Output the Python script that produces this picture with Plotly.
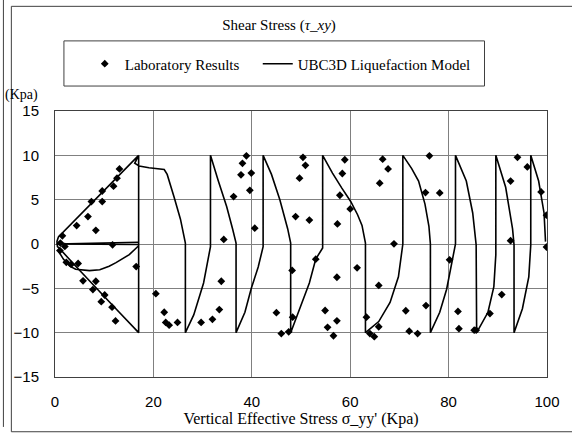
import plotly.graph_objects as go

# Laboratory measurements: vertical effective stress (kPa) vs shear stress (kPa)
lab_sigma = [13.1, 12.6, 11.9, 9.6, 7.4, 9.6, 6.7, 4.4, 8.3, 1.5, 1.1, 2.0, 11.7, 1.0,
             2.3, 3.3, 4.7, 16.5, 5.7, 8.3, 7.7, 10.1, 9.4, 11.6, 12.3,
             20.5, 22.2, 22.5, 23.2, 24.9, 29.7, 32.0, 33.4, 33.8, 34.3, 36.3, 37.8, 38.1,
             38.9, 39.9, 39.6, 40.6, 45.0, 46.0, 47.5, 48.3, 48.2, 48.9, 49.7, 50.4, 50.9,
             51.7, 53.0, 54.9, 55.4, 56.6, 57.3, 57.3, 57.4, 57.9, 58.4, 58.9, 60.0, 61.4,
             63.3, 64.0, 64.9, 65.8, 65.8, 66.0, 66.6, 67.7, 68.9, 71.3, 72.0, 73.7, 75.4,
             75.3, 76.1, 78.2, 80.2, 81.9, 82.1, 85.2, 85.6, 88.4, 90.8, 92.6, 92.6, 94.0,
             96.0, 98.8, 99.9, 99.9]
lab_tau = [8.47, 7.42, 6.52, 5.98, 4.79, 4.79, 3.09, 2.08, 1.54, 0.92, 0.1, -0.27, -0.09, -0.74,
           -2.07, -2.29, -2.2, -2.55, -4.15, -4.2, -5.14, -5.75, -6.51, -7.13, -8.68,
           -5.6, -7.7, -8.85, -9.15, -8.85, -8.85, -8.5, -7.4, -4.2, 0.52, 5.35, 7.8, 9.1,
           9.95, 8.0, 6.05, 1.79, -7.75, -10.1, -9.9, -8.25, -2.98, 3.09, 7.42, 9.77, 8.87,
           2.7, -1.71, -7.5, -9.4, -10.35, -8.66, -3.75, 2.26, 5.5, 7.95, 9.5, 3.96, -2.69,
           -8.25, -10.1, -10.45, -9.33, -4.67, 6.86, 9.57, 8.47, 0.02, -7.53, -9.83, -10.1, -6.95,
           5.8, 9.95, 5.76, -1.78, -7.6, -9.55, -9.72, -9.72, -7.85, -5.7, 0.38, 7.1, 9.77,
           8.69, 5.87, 3.25, -0.34]

# UBC3D liquefaction model stress path (None separates the path pieces)
model_sigma = [17.0, 0.3, 17.0, None,
               0.7, 1.7, 3.0, 4.2, 7.0, 9.1, 11.0, 12.4, 15.1, 16.8, 17.0, None,
               17.0, 0.7, 0.4, 0.5, 0.9, 4.7, 11.7, 17.0, 17.0, 16.2, 17.1, 19.1, 22.2, 22.8,
               24.2, 25.5, 26.5, 26.5, 28.2, 30.2, 31.6, 31.6, 33.2, 34.9, 36.1, 36.8, 36.8,
               38.6, 39.9, 41.3, 42.3, 42.3, 44.0, 45.7, 47.3, 47.9, 47.9, 50.0, 51.7, 53.0,
               54.4, 54.4, 56.4, 58.3, 60.1, 61.5, 62.4, 63.1, 63.1, 65.8, 68.1, 69.8, 70.5,
               70.7, 70.7, 72.5, 73.9, 75.2, 76.0, 76.3, 76.3, 78.2, 79.6, 80.9, 81.4, 81.4,
               83.6, 84.9, 85.6, 85.7, 88.0, 89.2, 89.6, 89.6, 91.6, 93.0, 93.3, 93.3, 95.0,
               96.3, 96.7, 96.7, 98.3, 99.4, 99.7]
model_tau = [-0.05, 0.0, 0.2, None,
             -0.8, -1.7, -2.5, -2.85, -3.0, -2.9, -2.5, -2.1, -1.2, -0.4, -0.2, None,
             10.0, 0.8, 0.3, -0.3, -0.5, -2.8, -6.9, -10.0, 10.0, 9.1, 8.8, 8.6, 8.4, 7.85,
             5.3, 2.8, 0.1, -10.0, -8.0, -4.4, -0.3, 10.0, 7.1, 4.2, 1.7, 0.1, -10.0,
             -7.7, -5.0, -2.6, -0.3, 10.0, 7.85, 5.0, 1.7, 0.1, -10.0, -6.9, -4.4, -1.7,
             -0.45, 10.0, 8.0, 6.3, 4.8, 3.3, 2.1, 0.1, -10.0, -8.75, -6.6, -3.7, -1.2,
             0.0, 10.0, 8.5, 7.1, 4.5, 2.0, 0.0, -10.0, -7.7, -5.1, -1.2, 0.0, 10.0,
             7.1, 3.5, -0.1, -10.0, -7.7, -4.8, -1.2, 10.0, 6.4, 1.7, -0.1, -10.0, -7.3,
             -3.7, -0.1, 10.0, 7.1, 3.5, 0.27]

x_ticks = [0, 20, 40, 60, 80, 100]
y_ticks = [-15, -10, -5, 0, 5, 10, 15]

SERIF = "Liberation Serif"
SANS = "Liberation Sans"

W, H = 572, 433
ML, MR, MT, MB = 55, 21, 111, 45
PW, PH = W - ML - MR, H - MT - MB


def px_x(px):
    return (px - ML) / PW


def px_y(py):
    return (H - MB - py) / PH


fig = go.Figure()
fig.add_trace(go.Scatter(
    x=lab_sigma, y=lab_tau, mode="markers", name="Laboratory Results",
    marker=dict(symbol="diamond", size=6, color="black"), legendwidth=128,
))
fig.add_trace(go.Scatter(
    x=model_sigma, y=model_tau, mode="lines", name="UBC3D Liquefaction Model",
    line=dict(color="black", width=1.6), connectgaps=False, legendwidth=200,
))

shapes = [
    # chart frame
    dict(type="line", xref="paper", yref="paper", x0=px_x(3), x1=px_x(3),
         y0=px_y(-5), y1=px_y(440), line=dict(color="#404040", width=1)),
    dict(type="rect", xref="paper", yref="paper", x0=px_x(11), x1=px_x(580),
         y0=px_y(2), y1=px_y(445), line=dict(color="#404040", width=1)),
    # legend box
    dict(type="rect", xref="paper", yref="paper", x0=px_x(64), x1=px_x(488),
         y0=px_y(38), y1=px_y(85), line=dict(color="#404040", width=1)),
]

fig.update_layout(
    width=W, height=H,
    margin=dict(l=ML, r=MR, t=MT, b=MB),
    paper_bgcolor="white", plot_bgcolor="white",
    font=dict(family=SERIF, size=15, color="black"),
    title=dict(text="Shear Stress (<i>τ_xy</i>)", xref="container", x=279 / W,
               xanchor="center", yref="container", y=1 - 25 / H, yanchor="middle",
               font=dict(family=SERIF, size=15)),
    showlegend=True,
    legend=dict(orientation="h", x=px_x(85), xanchor="left", y=px_y(62), yanchor="middle",
                font=dict(family=SERIF, size=15), bgcolor="rgba(0,0,0,0)",
                borderwidth=0),
    shapes=shapes,
    annotations=[dict(text="(Kpa)", xref="paper", yref="paper", x=px_x(3), y=px_y(94),
                      xanchor="left", yanchor="middle", showarrow=False,
                      font=dict(family=SERIF, size=14))],
)
fig.update_xaxes(
    range=[0, 100], tickvals=x_ticks, showgrid=True, gridcolor="#808080", gridwidth=1,
    zeroline=False, showline=True, linecolor="#404040", linewidth=1, mirror=True,
    ticks="", ticklabelstandoff=11, tickfont=dict(family=SANS, size=15),
    title=dict(text="Vertical Effective Stress σ_yy' (Kpa)", standoff=0,
               font=dict(family=SERIF, size=16)),
)
fig.update_yaxes(
    range=[-15, 15], tickvals=y_ticks, showgrid=True, gridcolor="#808080", gridwidth=1,
    zeroline=False, showline=True, linecolor="#404040", linewidth=1, mirror=True,
    ticks="", ticklabelstandoff=12, tickfont=dict(family=SANS, size=15),
)

fig.write_html("out.html")
